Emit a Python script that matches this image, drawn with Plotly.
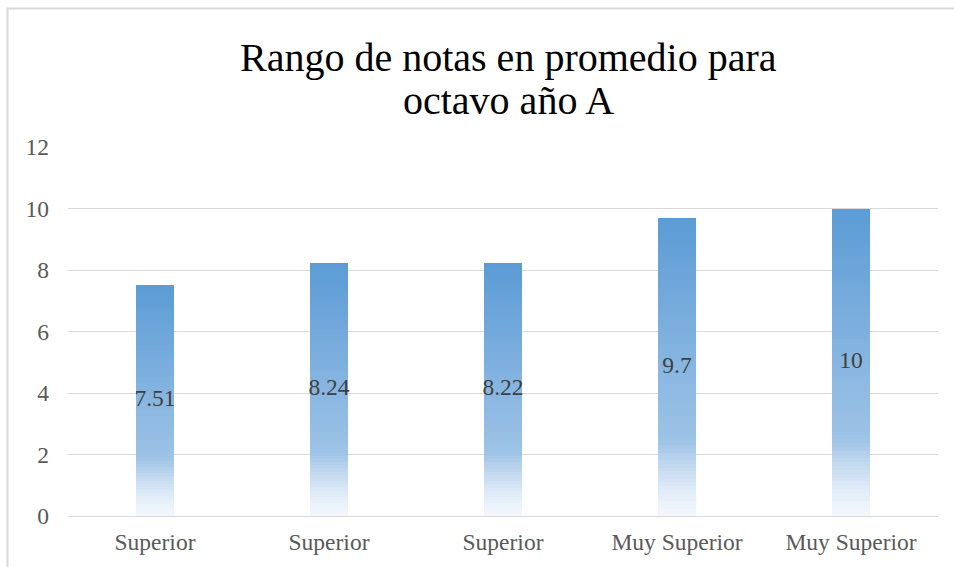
import plotly.graph_objects as go

categories = ["Superior", "Superior", "Superior", "Muy Superior", "Muy Superior"]
values = [7.51, 8.24, 8.22, 9.7, 10]
value_labels = ["7.51", "8.24", "8.22", "9.7", "10"]
y_ticks = [0, 2, 4, 6, 8, 10, 12]
title_lines = ["Rango de notas en promedio para", "octavo año A"]

# gradient stops (fraction from bar bottom, rgb)
stops = [
    (0.0, (244, 248, 253)),
    (0.08, (226, 237, 248)),
    (0.18, (190, 214, 239)),
    (0.25, (158, 195, 230)),
    (1.0, (91, 155, 213)),
]


def grad_color(f):
    for (f0, c0), (f1, c1) in zip(stops[:-1], stops[1:]):
        if f0 <= f <= f1:
            t = (f - f0) / (f1 - f0)
            c = [round(a + (b - a) * t) for a, b in zip(c0, c1)]
            return "rgb({},{},{})".format(*c)
    return "rgb(91,155,213)"


SERIF = "Liberation Serif, Times New Roman, serif"
W, H = 954, 567
ML, MR, MT, MB = 68, 16, 147, 51
PW, PH = W - ML - MR, H - MT - MB


def px_x(px):
    return (px - ML) / PW


def px_y(py):
    return (H - MB - py) / PH


xpos = list(range(len(categories)))
N = 80
fig = go.Figure()
for i in range(N):
    frac = (i + 0.5) / N
    fig.add_trace(go.Bar(
        x=xpos,
        y=[v / N for v in values],
        base=[v * i / N for v in values],
        width=0.224,
        marker=dict(color=grad_color(frac), line=dict(width=0)),
        showlegend=False,
        hoverinfo="skip",
    ))

fig.add_trace(go.Scatter(
    x=xpos,
    y=[v / 2 for v in values],
    mode="text",
    text=value_labels,
    textposition="middle center",
    textfont=dict(family=SERIF, size=23.5, color="#404040"),
    showlegend=False,
    hoverinfo="skip",
))

annotations = [
    dict(text=title_lines[0], xref="paper", yref="paper",
         x=px_x(508.5), y=px_y(57), xanchor="center", yanchor="middle",
         showarrow=False, font=dict(family=SERIF, size=40, color="#000000")),
    dict(text=title_lines[1], xref="paper", yref="paper",
         x=px_x(508.5), y=px_y(100), xanchor="center", yanchor="middle",
         showarrow=False, font=dict(family=SERIF, size=40, color="#000000")),
]

fig.update_layout(
    width=W,
    height=H,
    barmode="overlay",
    bargap=0,
    paper_bgcolor="white",
    plot_bgcolor="white",
    margin=dict(l=ML, r=MR, t=MT, b=MB),
    font=dict(family=SERIF, size=23.5, color="#595959"),
    annotations=annotations,
    hovermode=False,
    xaxis=dict(
        range=[-0.5, len(categories) - 0.5],
        tickmode="array",
        tickvals=xpos,
        ticktext=categories,
        showgrid=False,
        zeroline=False,
        showline=True,
        linecolor="#D9D9D9",
        linewidth=1,
        ticks="",
        ticklabelstandoff=5,
        tickfont=dict(family=SERIF, size=23.5, color="#595959"),
    ),
    yaxis=dict(
        range=[0, 12],
        tickmode="array",
        tickvals=y_ticks,
        showgrid=True,
        gridcolor="#D9D9D9",
        gridwidth=1,
        zeroline=False,
        showline=False,
        ticks="",
        ticklabelstandoff=18,
        tickfont=dict(family=SERIF, size=23.5, color="#595959"),
    ),
    shapes=[
        dict(type="rect", xref="paper", yref="paper",
             x0=px_x(7.5), x1=px_x(975),
             y0=px_y(590), y1=px_y(8.5),
             line=dict(color="#D9D9D9", width=2), fillcolor="rgba(0,0,0,0)",
             layer="below"),
    ],
)

fig.write_html(
    "out.html",
    config={"displayModeBar": False, "staticPlot": True},
    post_script="document.body.style.margin='0';document.body.style.overflow='hidden';",
)
